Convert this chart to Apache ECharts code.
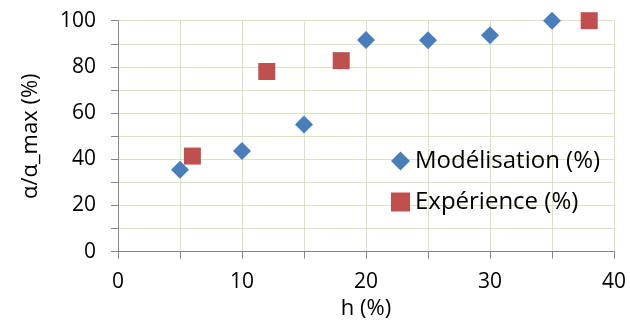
<!DOCTYPE html>
<html><head><meta charset="utf-8">
<script src="https://cdn.jsdelivr.net/npm/echarts@6/dist/echarts.min.js"></script>
<style>html,body{margin:0;padding:0;background:#fff}#c{width:630px;height:320px}</style>
</head><body><div id="c"></div>
<script>
const modelX = [5, 10, 15, 20, 25, 30, 35];
const modelY = [35.5, 43.6, 55.1, 91.6, 91.5, 93.7, 100];
const expX = [6, 12, 18, 38];
const expY = [41.4, 78, 82.7, 100];
const seriesNames = ['Modélisation (%)', 'Expérience (%)'];
const xTitle = 'h (%)';
const yTitle = 'α/α_max (%)';

const font = 'Open Sans';
const chart = echarts.init(document.getElementById('c'), null, {renderer: 'canvas'});
const axisCol = '#868686', gridCol = '#d7e4bd';
chart.setOption({
  animation: false,
  backgroundColor: '#fff',
  textStyle: {fontFamily: font},
  grid: {left: 118, right: 16, top: 20.7, bottom: 68.3, containLabel: false, outerBoundsMode: 'none'},
  xAxis: {
    type: 'value', min: 0, max: 40, interval: 5,
    name: xTitle, nameLocation: 'middle', nameGap: 41,
    nameTextStyle: {fontFamily: font, fontSize: 22, color: '#000'},
    axisLine: {show: true, lineStyle: {color: axisCol, width: 1}},
    axisTick: {show: true, length: 7, lineStyle: {color: axisCol}},
    axisLabel: {margin: 20, fontFamily: font, fontSize: 21, color: '#000',
      formatter: v => (v % 10 === 0 ? String(v) : '')},
    splitLine: {show: true, lineStyle: {color: gridCol, width: 1}}
  },
  yAxis: {
    type: 'value', min: 0, max: 100, interval: 10,
    name: yTitle, nameLocation: 'middle', nameGap: 76, nameRotate: 90,
    nameTextStyle: {fontFamily: font, fontSize: 22, color: '#000'},
    axisLine: {show: true, lineStyle: {color: axisCol, width: 1}},
    axisTick: {show: true, length: 7, lineStyle: {color: axisCol}},
    axisLabel: {margin: 22, fontFamily: font, fontSize: 21, color: '#000',
      formatter: v => (v % 20 === 0 ? String(v) : '')},
    splitLine: {show: true, lineStyle: {color: gridCol, width: 1}}
  },
  legend: {
    orient: 'vertical', left: 386, top: 144, itemWidth: 19, itemHeight: 19, itemGap: 17,
    textStyle: {fontFamily: font, fontSize: 24, color: '#000'},
    data: [{name: seriesNames[0], icon: 'diamond'}, {name: seriesNames[1], icon: 'rect'}]
  },
  series: [
    {name: seriesNames[0], type: 'scatter', symbol: 'diamond', symbolSize: 18,
     itemStyle: {color: '#4a7ebb', opacity: 1}, data: modelX.map((x, i) => [x, modelY[i]])},
    {name: seriesNames[1], type: 'scatter', symbol: 'rect', symbolSize: 17,
     itemStyle: {color: '#c0504d', opacity: 1}, data: expX.map((x, i) => [x, expY[i]])}
  ]
});
</script></body></html>
